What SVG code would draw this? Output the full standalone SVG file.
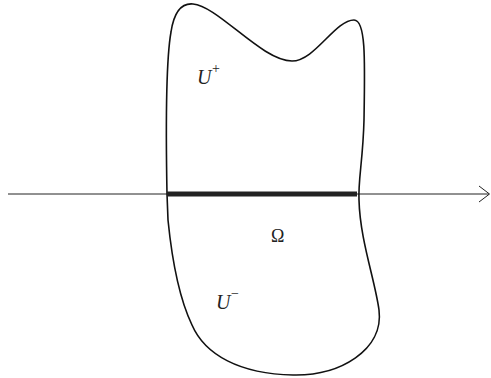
<svg xmlns="http://www.w3.org/2000/svg" width="491" height="378" viewBox="0 0 491 378">
<style>
.lbl{font-family:"Liberation Serif","Times New Roman",serif;fill:#222}
.it{font-style:italic}
</style>
<rect width="491" height="378" fill="#fff"/>
<g id="connectors">
<line x1="8" y1="194" x2="489" y2="194" stroke="#222" stroke-width="1"/>
<polyline points="479,186 489.5,194 479,202" fill="none" stroke="#222" stroke-width="1"/>
</g>
<g id="region">
<path d="M167,194 C166,140 166,60 171,32 C174,12 182,3 193,4 C218,6 262,61 292,61 C315,61 335,20 354,20 C366,20 365,60 364,120 C363,160 358,180 359,200 C360,240 375,280 379,310 C384,350 340,376 293,375 C240,374 205,355 192,325 C180,300 172,260 168,220 Z" fill="none" stroke="#111" stroke-width="1.6"/>
</g>
<g id="omega-segment">
<line x1="167" y1="194" x2="357" y2="194" stroke="#222" stroke-width="5"/>
</g>
<g id="labels">
<text class="lbl it" x="197" y="84" font-size="20">U</text>
<text class="lbl" x="212" y="73" font-size="14">+</text>
<text class="lbl" x="271" y="242" font-size="18">Ω</text>
<text class="lbl it" x="216" y="309" font-size="20">U</text>
<text class="lbl" x="231" y="298" font-size="14">−</text>
</g>
</svg>
